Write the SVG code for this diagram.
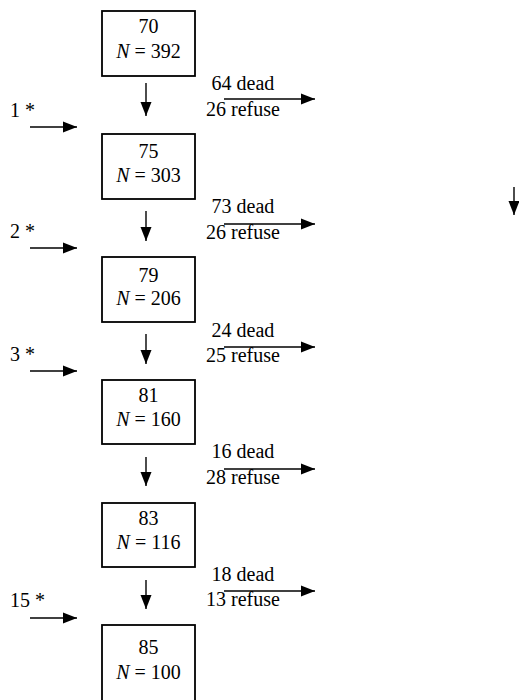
<svg xmlns="http://www.w3.org/2000/svg" width="519" height="700" viewBox="0 0 519 700">
<style>
  text { font-family: "Liberation Serif", "Times New Roman", serif; font-size: 20px; fill: #000; }
  .c { text-anchor: middle; }
  .box { fill: #fff; stroke: #000; stroke-width: 1.8; }
  .ln { stroke: #000; stroke-width: 1.4; fill: none; marker-end: url(#ah); }
  .i { font-style: italic; }
</style>
<defs>
  <marker id="ah" markerUnits="userSpaceOnUse" markerWidth="14" markerHeight="12" refX="14" refY="6" orient="auto">
    <path d="M0,0.5 L14,6 L0,11.5 z" fill="#000"/>
  </marker>
</defs>
<rect width="519" height="700" fill="#fff"/>

<g id="node-70">
  <rect class="box" x="102" y="11" width="93" height="65"/>
  <text class="c" x="148.5" y="33">70</text>
  <text class="c" x="148.5" y="58"><tspan class="i">N</tspan> = 392</text>
</g>
<g id="node-75">
  <rect class="box" x="102" y="134" width="93" height="65"/>
  <text class="c" x="148.5" y="158">75</text>
  <text class="c" x="148.5" y="182"><tspan class="i">N</tspan> = 303</text>
</g>
<g id="node-79">
  <rect class="box" x="102" y="257" width="93" height="65"/>
  <text class="c" x="148.5" y="282">79</text>
  <text class="c" x="148.5" y="305"><tspan class="i">N</tspan> = 206</text>
</g>
<g id="node-81">
  <rect class="box" x="102" y="380" width="93" height="64"/>
  <text class="c" x="148.5" y="402">81</text>
  <text class="c" x="148.5" y="426"><tspan class="i">N</tspan> = 160</text>
</g>
<g id="node-83">
  <rect class="box" x="102" y="503" width="93" height="64"/>
  <text class="c" x="148.5" y="525">83</text>
  <text class="c" x="148.5" y="549"><tspan class="i">N</tspan> = 116</text>
</g>
<g id="node-85">
  <rect class="box" x="102" y="625" width="93" height="82"/>
  <text class="c" x="148.5" y="654">85</text>
  <text class="c" x="148.5" y="679"><tspan class="i">N</tspan> = 100</text>
</g>

<g id="connectors">
  <line class="ln" x1="146" y1="83" x2="146" y2="116"/>
  <line class="ln" x1="146" y1="211" x2="146" y2="241"/>
  <line class="ln" x1="146" y1="334" x2="146" y2="364"/>
  <line class="ln" x1="146" y1="457" x2="146" y2="486"/>
  <line class="ln" x1="146" y1="580" x2="146" y2="609"/>
  <line class="ln" x1="224" y1="99" x2="315" y2="99"/>
  <line class="ln" x1="224" y1="224" x2="315" y2="224"/>
  <line class="ln" x1="224" y1="347" x2="315" y2="347"/>
  <line class="ln" x1="224" y1="469" x2="315" y2="469"/>
  <line class="ln" x1="224" y1="591" x2="315" y2="591"/>
  <line class="ln" x1="30" y1="127" x2="77" y2="127"/>
  <line class="ln" x1="30" y1="248" x2="77" y2="248"/>
  <line class="ln" x1="30" y1="371" x2="77" y2="371"/>
  <line class="ln" x1="30" y1="618" x2="77" y2="618"/>
  <line class="ln" x1="514" y1="187" x2="514" y2="215"/>
</g>

<g id="labels">
  <text class="c" x="243" y="90">64 dead</text>
  <text class="c" x="243" y="116">26 refuse</text>
  <text class="c" x="243" y="213">73 dead</text>
  <text class="c" x="243" y="239">26 refuse</text>
  <text class="c" x="243" y="337">24 dead</text>
  <text class="c" x="243" y="362">25 refuse</text>
  <text class="c" x="243" y="458">16 dead</text>
  <text class="c" x="243" y="484">28 refuse</text>
  <text class="c" x="243" y="581">18 dead</text>
  <text class="c" x="243" y="606">13 refuse</text>
  <text x="10" y="117">1 *</text>
  <text x="10" y="238">2 *</text>
  <text x="10" y="361">3 *</text>
  <text x="10" y="607">15 *</text>
</g>
</svg>
